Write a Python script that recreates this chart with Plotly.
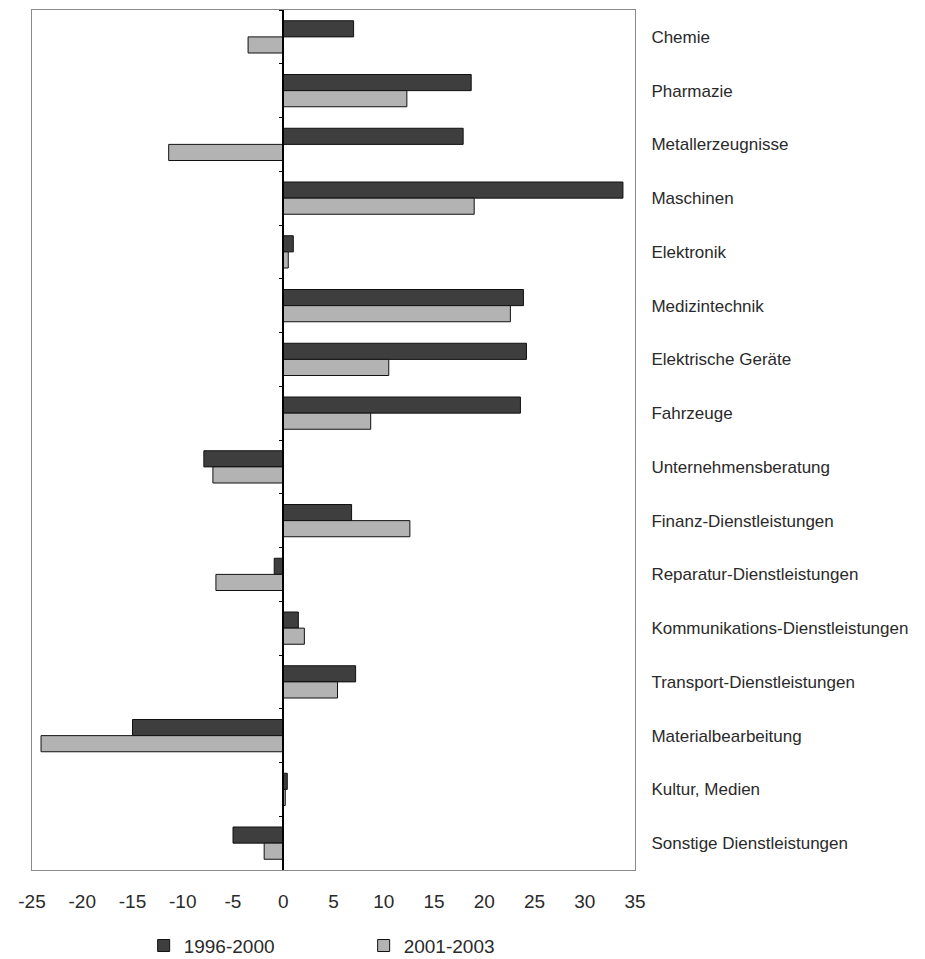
import plotly.graph_objects as go

branchen = ['Chemie', 'Pharmazie', 'Metallerzeugnisse', 'Maschinen', 'Elektronik',
            'Medizintechnik', 'Elektrische Geräte', 'Fahrzeuge', 'Unternehmensberatung',
            'Finanz-Dienstleistungen', 'Reparatur-Dienstleistungen',
            'Kommunikations-Dienstleistungen', 'Transport-Dienstleistungen',
            'Materialbearbeitung', 'Kultur, Medien', 'Sonstige Dienstleistungen']
werte_1996_2000 = [7.0, 18.7, 17.9, 33.8, 1.0, 23.9, 24.2, 23.6, -7.9, 6.8, -0.9, 1.5, 7.2, -15.0, 0.4, -5.0]
werte_2001_2003 = [-3.5, 12.3, -11.4, 19.0, 0.5, 22.6, 10.5, 8.7, -7.0, 12.6, -6.7, 2.1, 5.4, -24.1, 0.2, -1.9]
x_ticks = list(range(-25, 40, 5))
x_tick_text = [str(v) for v in x_ticks]

n = len(branchen)
font = 'Liberation Sans, Arial, sans-serif'

fig = go.Figure()
fig.add_trace(go.Bar(y=branchen, x=werte_1996_2000, orientation='h', name='1996-2000',
                     marker=dict(color='#3e3e3e', line=dict(color='#111111', width=1))))
fig.add_trace(go.Bar(y=branchen, x=werte_2001_2003, orientation='h', name='2001-2003',
                     marker=dict(color='#b3b3b3', line=dict(color='#111111', width=1))))
# dummy trace so the zero axis (y2) with boundary ticks gets drawn
fig.add_trace(go.Scatter(y=branchen, x=[0] * n, yaxis='y2', mode='none',
                         showlegend=False, hoverinfo='skip'))

fig.update_layout(
    width=925, height=959,
    margin=dict(l=24, r=298, t=2, b=95),
    paper_bgcolor='white', plot_bgcolor='white',
    font=dict(family=font, size=17, color='#2a2a2a'),
    barmode='group', bargap=0.4, bargroupgap=0,
    xaxis=dict(range=[-25, 35], tickvals=x_ticks, ticktext=x_tick_text, showgrid=False,
               zeroline=False, automargin=False,
               showline=True, mirror=True, linecolor='#8a8a8a', linewidth=1,
               ticks='outside', ticklen=14, tickcolor='rgba(0,0,0,0)',
               tickfont=dict(size=19)),
    yaxis=dict(range=[n - 0.5, -0.5], side='right', showgrid=False, zeroline=False,
               automargin=False,
               showline=True, mirror=True, linecolor='#8a8a8a', linewidth=1,
               ticks='', ticklabelstandoff=12, tickfont=dict(size=17)),
    yaxis2=dict(overlaying='y', anchor='free', position=25 / 60, side='left',
                range=[n - 0.5, -0.5], showgrid=False, zeroline=False, automargin=False,
                showline=True, linecolor='black', linewidth=1.5,
                ticks='outside', ticklen=4, tickcolor='black', tickson='boundaries',
                showticklabels=False),
    legend=dict(orientation='h', x=0.55, xanchor='center', y=-0.088, yanchor='middle',
                entrywidth=175, itemwidth=30, font=dict(size=19)),
)

fig.write_html("out.html")
